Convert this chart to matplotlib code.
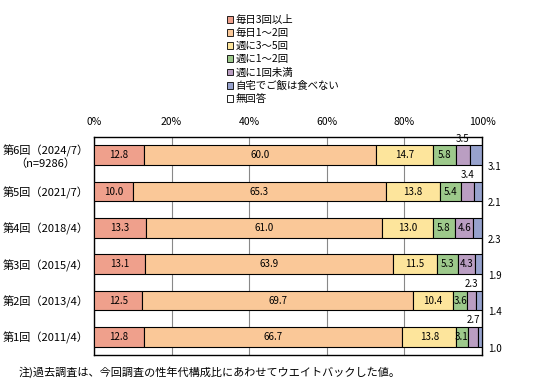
import matplotlib
matplotlib.use('Agg')
from matplotlib import pyplot as plt
from matplotlib.patches import Patch
import numpy as np

plt.rcParams['font.family'] = ['Noto Sans CJK JP', 'DejaVu Sans']

rounds = ['第1回（2011/4）', '第2回（2013/4）', '第3回（2015/4）',
          '第4回（2018/4）', '第5回（2021/7）', '第6回（2024/7）\n（n=9286）']
labels = ['毎日3回以上', '毎日1～2回', '週に3～5回', '週に1～2回',
          '週に1回未満', '自宅でご飯は食べない', '無回答']
colors = ['#EFA08C', '#FAC898', '#FDE59C', '#9DC98B', '#BA9EC2', '#97A2CD', '#FFFFFF']

# bottom bar first (第1回) ... top bar (第6回)
v1 = [12.8, 12.5, 13.1, 13.3, 10.0, 12.8]
v2 = [66.7, 69.7, 63.9, 61.0, 65.3, 60.0]
v3 = [13.8, 10.4, 11.5, 13.0, 13.8, 14.7]
v4 = [3.1, 3.6, 5.3, 5.8, 5.4, 5.8]
v5 = [2.7, 2.3, 4.3, 4.6, 3.4, 3.5]
v6 = [1.0, 1.4, 1.9, 2.3, 2.1, 3.1]
v7 = [0.0, 0.0, 0.0, 0.0, 0.0, 0.0]
series = [v1, v2, v3, v4, v5, v6, v7]

fig = plt.figure(figsize=(5.34, 3.89), dpi=100)
ax = fig.add_axes([0.176, 0.0874, 0.7266, 0.5604])

y = np.arange(len(rounds))
h = 0.55
left = np.zeros(len(rounds))
for i, vals in enumerate(series):
    vals = np.array(vals)
    ax.barh(y, vals, left=left, height=h, color=colors[i], edgecolor='black',
            linewidth=0.8, zorder=3)
    for j in range(len(rounds)):
        v = vals[j]
        if v <= 0:
            continue
        cx = left[j] + v / 2
        if i == 5:
            ax.text(101.5, y[j] - h / 2 - 0.05, f'{v:.1f}', ha='left', va='center',
                    fontsize=7, clip_on=False)
        elif i == 4 and v < 4:
            ax.text(cx, y[j] + h / 2 + 0.18, f'{v:.1f}', ha='center', va='center',
                    fontsize=7, clip_on=False)
        else:
            ax.text(cx, y[j], f'{v:.1f}', ha='center', va='center', fontsize=7,
                    zorder=4)
    left = left + vals

ax.set_xlim(0, 100)
ax.set_ylim(-0.5, 5.5)
ax.set_xticks([0, 20, 40, 60, 80, 100])
ax.set_xticklabels(['0%', '20%', '40%', '60%', '80%', '100%'], fontsize=7.5)
ax.xaxis.tick_top()
ax.tick_params(axis='x', length=0, pad=7)
ax.set_yticks(y)
ax.set_yticklabels(rounds, fontsize=8, ha='center', multialignment='center')
ax.tick_params(axis='y', length=0, pad=35)
ax.grid(axis='x', color='#888888', linewidth=0.8, zorder=0)
for s in ax.spines.values():
    s.set_linewidth(1.0)

handles = [Patch(facecolor=c, edgecolor='black', linewidth=0.6) for c in colors]
fig.legend(handles, labels, loc='upper left', bbox_to_anchor=(0.415, 0.975),
           frameon=False, fontsize=7.5, handlelength=0.6, handleheight=0.6,
           handletextpad=0.2, labelspacing=0.3, borderpad=0)

fig.text(0.034, 0.044, '注)過去調査は、今回調査の性年代構成比にあわせてウエイトバックした値。',
         fontsize=8, va='center')

fig.savefig('out.png', dpi=100)
